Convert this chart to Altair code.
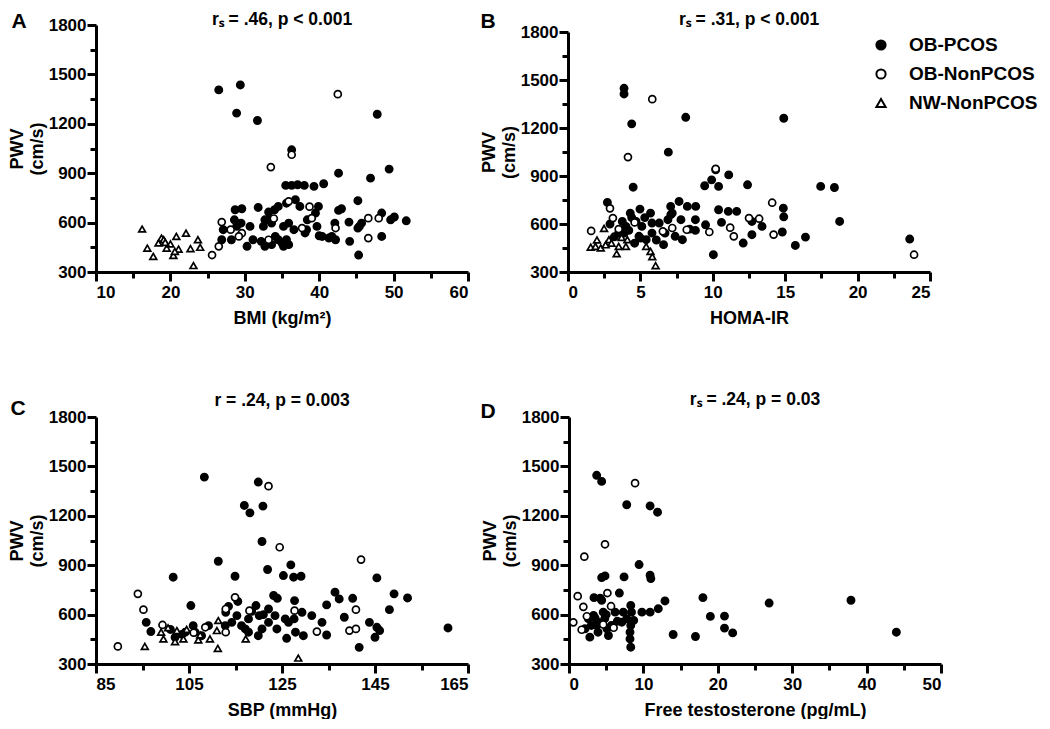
import altair as alt
import pandas as pd

GROUPS = ["OB-PCOS", "OB-NonPCOS", "NW-NonPCOS"]
GROUP_SHAPES = ["circle", "circle", "triangle-up"]
GROUP_FILLS = ["black", "white", "white"]
PANEL_LETTERS = ["A", "B", "C", "D"]
PANEL_TITLES = ["rₛ = .46, p < 0.001", "rₛ = .31, p < 0.001", "r = .24, p = 0.003", "rₛ = .24, p = 0.03"]
X_TITLES = ["BMI (kg/m²)", "HOMA-IR", "SBP (mmHg)", "Free testosterone (pg/mL)"]
Y_TITLE = ["PWV", "(cm/s)"]

# ---------------- Panel A: BMI ----------------
A_PCOS_X = [26.5, 29.4, 28.9, 31.7, 47.8, 36.3, 42.6, 49.4, 46.9, 35.5, 36.3, 37.1, 38.0, 39.3, 40.6,
            29.6, 31.8, 33.2, 37.4, 39.9, 42.6, 43.0, 45.2, 44.0, 45.4, 45.7, 48.4, 49.6, 50.1, 51.7,
            48.4, 44.1, 45.3, 45.2, 27.1, 26.9, 28.2, 28.6, 28.9, 29.5, 30.3, 30.7, 31.1, 32.2, 32.5,
            32.7, 33.2, 33.6, 34.1, 34.5, 35.0, 35.2, 35.6, 35.9, 35.9, 36.6, 36.8, 38.1, 38.3, 39.7,
            40.0, 40.4, 41.3, 41.7, 42.2, 42.1, 39.5, 38.4, 34.0, 34.5, 35.6, 35.2, 32.7, 33.6, 28.7]
A_PCOS_Y = [1406, 1436, 1265, 1220, 1258, 1042, 900, 925, 870, 826, 826, 830, 826, 820, 836,
            684, 692, 664, 698, 698, 674, 684, 733, 603, 577, 597, 658, 617, 634, 611,
            516, 486, 403, 567, 557, 496, 496, 617, 577, 597, 456, 577, 496, 486, 577,
            617, 617, 597, 516, 496, 476, 577, 496, 466, 597, 557, 739, 537, 557, 577,
            520, 516, 506, 516, 496, 597, 658, 617, 678, 698, 718, 456, 456, 466, 678]
A_NON_X = [25.6, 26.5, 26.9, 28.1, 29.6, 42.5, 33.5, 36.3, 35.9, 33.9, 38.7, 39.0, 42.2, 46.6, 48.0,
           46.6, 37.7, 33.2, 29.2]
A_NON_Y = [403, 456, 603, 557, 536, 1380, 937, 1012, 729, 625, 697, 627, 567, 627, 627,
           506, 567, 496, 516]
A_NW_X = [16.2, 16.9, 17.7, 18.4, 18.8, 19.1, 19.5, 20.0, 20.4, 20.8, 21.1, 22.1, 22.7, 23.1, 23.7,
          24.0, 19.3, 20.6]
A_NW_Y = [561, 445, 395, 476, 506, 496, 445, 470, 401, 516, 439, 536, 442, 339, 496,
          450, 480, 425]

# ---------------- Panel B: HOMA-IR ----------------
B_PCOS_X = [3.87, 3.87, 4.40, 8.13, 6.93, 14.9, 4.5, 9.44, 9.92, 10.2, 10.4, 11.1, 12.4, 17.45, 18.4,
            18.76, 23.6, 2.72, 7.67, 8.24, 8.82, 7.09, 10.4, 11.07, 11.65, 14.87, 14.9, 12.7, 13.4, 12.1,
            10.04, 15.7, 16.4, 14.8, 12.7, 9.5, 8.8, 7.9, 4.97, 4.3, 5.7, 7.1, 7.8, 6.7, 8.8,
            6.9, 3.75, 3.87, 5.0, 7.2, 10.6, 8.4, 6.6, 5.8, 5.1, 4.7, 4.0, 3.5, 4.9, 5.4,
            5.8, 6.3, 7.4, 4.2, 4.6, 3.2, 6.1, 2.9, 5.3, 4.4]
B_PCOS_Y = [1448, 1413, 1226, 1267, 1049, 1261, 830, 839, 876, 939, 835, 907, 845, 835, 828,
            616, 506, 735, 741, 710, 710, 710, 689, 679, 679, 699, 645, 533, 585, 481,
            408, 466, 518, 550, 616, 595, 627, 502, 693, 668, 668, 658, 627, 543, 560,
            627, 616, 543, 512, 668, 610, 568, 471, 543, 585, 616, 585, 543, 523, 502,
            606, 606, 523, 560, 480, 520, 500, 600, 640, 640]
B_NON_X = [1.6, 2.9, 3.1, 4.14, 5.82, 10.2, 9.76, 11.2, 11.45, 12.5, 13.2, 14.1, 14.2, 23.9, 6.55,
           7.2, 3.5, 8.2, 4.6]
B_NON_Y = [557, 698, 637, 1018, 1380, 945, 550, 577, 523, 637, 633, 733, 534, 408, 554,
           575, 568, 564, 610]
B_NW_X = [1.57, 1.9, 2.49, 2.26, 2.83, 3.36, 3.5, 4.0, 4.1, 5.4, 5.7, 5.82, 6.05, 3.0, 2.0, 2.6, 3.7]
B_NW_Y = [455, 460, 572, 450, 502, 414, 460, 460, 502, 460, 429, 396, 340, 480, 500, 470, 516]

# ---------------- Panel C: SBP ----------------
C_PCOS_X = [108.3, 119.9, 120.9, 116.9, 118.1, 120.7, 111.3, 121.9, 126.9, 125.3, 127.5, 129.1, 114.9, 101.6, 145.4,
            105.4, 136.4, 137.3, 140.2, 149.1, 152.0, 134.6, 148.1, 138.4, 143.8, 145.4, 145.0, 146.0, 141.6, 160.7,
            134.6, 133.6, 131.4, 129.3, 127.7, 127.6, 126.0, 129.6, 127.9, 124.0, 123.2, 122.1, 123.5, 123.9, 126.4,
            125.7, 119.4, 120.1, 119.9, 120.7, 117.8, 116.3, 115.3, 114.2, 112.8, 112.9, 117.8, 117.1, 105.9, 95.8,
            96.8, 106.3, 109.2, 107.7, 104.2, 102.0, 122.1, 118.5, 121.0, 113.5, 115.5, 101.0, 103.5]
C_PCOS_Y = [1435, 1405, 1259, 1263, 1218, 1044, 924, 874, 902, 837, 827, 833, 833, 827, 823,
            655, 736, 695, 699, 726, 701, 659, 630, 584, 553, 523, 462, 503, 401, 519,
            476, 553, 594, 614, 685, 574, 456, 472, 493, 699, 716, 634, 594, 513, 553,
            574, 655, 594, 472, 513, 574, 533, 594, 553, 533, 614, 493, 513, 533, 553,
            497, 493, 533, 472, 493, 462, 553, 620, 600, 650, 680, 510, 480]
C_NON_X = [89.7, 94.0, 95.2, 99.3, 108.5, 112.9, 114.9, 112.9, 118.0, 122.1, 124.5, 127.7, 132.5, 142.0, 140.9,
           139.5, 140.9, 106.0]
C_NON_Y = [407, 726, 630, 537, 523, 493, 705, 634, 624, 1380, 1009, 624, 497, 934, 630,
           503, 513, 490]
C_NW_X = [95.5, 99.0, 99.5, 102.0, 102.4, 103.8, 107.0, 107.4, 109.5, 111.0, 111.3, 111.2, 117.2, 128.5, 100.5, 104.5]
C_NW_Y = [407, 493, 452, 436, 503, 452, 446, 476, 452, 503, 564, 395, 452, 336, 520, 510]

# ---------------- Panel D: Free testosterone ----------------
D_PCOS_X = [3.72, 4.39, 7.76, 10.9, 11.9, 9.42, 4.39, 4.84, 7.4, 10.9, 11.0, 6.77, 3.36, 4.39, 12.9,
            18.0, 26.9, 37.9, 44.0, 19.0, 20.9, 20.9, 22.0, 14.0, 17.0, 12.0, 10.9, 9.8, 8.4, 7.3,
            6.2, 8.3, 8.3, 8.2, 8.2, 8.3, 8.7, 7.76, 7.1, 5.7, 4.8, 3.9, 3.0, 2.8, 3.9,
            5.3, 3.3, 4.6, 5.1, 2.6, 3.7, 2.15, 4.2, 5.0, 6.5, 3.5]
D_PCOS_Y = [1446, 1409, 1267, 1260, 1222, 904, 825, 835, 829, 839, 819, 731, 703, 687, 683,
            703, 670, 687, 493, 589, 591, 518, 489, 479, 467, 636, 615, 615, 615, 615,
            615, 656, 534, 493, 452, 402, 565, 575, 554, 534, 575, 554, 534, 463, 493,
            473, 595, 615, 514, 575, 534, 514, 700, 600, 560, 580]
D_NON_X = [0.58, 1.17, 1.7, 1.93, 2.06, 4.84, 8.88, 5.16, 5.65, 2.4, 4.6, 6.0]
D_NON_Y = [553, 712, 508, 647, 952, 1027, 1398, 731, 651, 590, 540, 520]
D_NW_X = []
D_NW_Y = []

PANEL_DATA = [
    (A_PCOS_X, A_PCOS_Y, A_NON_X, A_NON_Y, A_NW_X, A_NW_Y),
    (B_PCOS_X, B_PCOS_Y, B_NON_X, B_NON_Y, B_NW_X, B_NW_Y),
    (C_PCOS_X, C_PCOS_Y, C_NON_X, C_NON_Y, C_NW_X, C_NW_Y),
    (D_PCOS_X, D_PCOS_Y, D_NON_X, D_NON_Y, D_NW_X, D_NW_Y),
]
X_DOMAINS = [[10, 60], [0, 25], [85, 165], [0, 50]]
X_TICKS = [list(range(10, 61, 5)), [i * 2.5 for i in range(11)], list(range(85, 166, 10)), list(range(0, 51, 5))]
X_LABEL_TEST = ["datum.value % 10 === 0", "datum.value % 5 === 0",
                "(datum.value - 85) % 20 === 0", "datum.value % 10 === 0"]
Y_TICKS = list(range(300, 1801, 150))

FONT = "Liberation Sans"


def make_df(d):
    rows = []
    for gi, g in enumerate(GROUPS):
        xs, ys = d[2 * gi], d[2 * gi + 1]
        for x, y in zip(xs, ys):
            rows.append({"x": x, "y": y, "group": g})
    return pd.DataFrame(rows)


def panel(i, width, height, yrange_top, letter_pos, title_y, with_legend=False):
    df = make_df(PANEL_DATA[i])
    xaxis = alt.Axis(
        values=X_TICKS[i], format="d",
        labelExpr=f"{X_LABEL_TEST[i]} ? datum.label : ''",
        tickSize={"condition": {"test": X_LABEL_TEST[i], "value": 9}, "value": 6},
        labelPadding=3, titlePadding=9, title=X_TITLES[i], labelOverlap=False, grid=False,
    )
    yaxis = alt.Axis(
        values=Y_TICKS, format="d",
        labelExpr="datum.value % 300 === 0 ? datum.label : ''",
        tickSize={"condition": {"test": "datum.value % 300 === 0", "value": 9}, "value": 6},
        labelPadding=1, titlePadding=2, title=Y_TITLE, labelOverlap=False, grid=False,
    )
    pts = alt.Chart(df).mark_point(stroke="black", strokeWidth=1.7, opacity=1).encode(
        x=alt.X("x:Q", scale=alt.Scale(domain=X_DOMAINS[i], nice=False, zero=False), axis=xaxis),
        y=alt.Y("y:Q", scale=alt.Scale(domain=[300, 1800], nice=False, zero=False,
                                       range=[height, yrange_top]), axis=yaxis),
        shape=alt.Shape("group:N", scale=alt.Scale(domain=GROUPS, range=GROUP_SHAPES), legend=None),
        fill=alt.Fill("group:N", scale=alt.Scale(domain=GROUPS, range=GROUP_FILLS), legend=None),
        size=alt.Size("group:N", scale=alt.Scale(domain=GROUPS, range=[52, 46, 62]), legend=None),
    )
    letter = alt.Chart(pd.DataFrame({"t": [PANEL_LETTERS[i]]})).mark_text(
        font=FONT, fontSize=21, fontWeight="bold", align="center", baseline="middle", color="black"
    ).encode(text="t:N", x=alt.value(letter_pos[0]), y=alt.value(letter_pos[1]))
    title = alt.Chart(pd.DataFrame({"t": [PANEL_TITLES[i]]})).mark_text(
        font=FONT, fontSize=17.5, fontWeight="bold", align="center", baseline="middle", color="black"
    ).encode(text="t:N", x=alt.value(width / 2), y=alt.value(title_y))
    layers = [pts, letter, title]
    if with_legend:
        for k, g in enumerate(GROUPS):
            ly = 20 + 29 * k
            sym = alt.Chart(pd.DataFrame({"group": [g]})).mark_point(
                shape=GROUP_SHAPES[k], fill=GROUP_FILLS[k], stroke="black", strokeWidth=2,
                size=85, opacity=1, filled=True,
            ).encode(x=alt.value(313), y=alt.value(ly))
            lab = alt.Chart(pd.DataFrame({"group": [g]})).mark_text(
                font=FONT, fontSize=19, fontWeight="bold", align="left", baseline="middle", color="black"
            ).encode(text="group:N", x=alt.value(341), y=alt.value(ly))
            layers += [sym, lab]
    return alt.layer(*layers).properties(width=width, height=height)


pA = panel(0, 372, 247, 0, (-77, -3), -5)
pB = panel(1, 362, 247, 7, (-80, -3), -5, with_legend=True)
pC = panel(2, 372, 247, 0, (-78, -8), -16)
pD = panel(3, 372, 247, 0, (-81, -5), -17)

top = alt.hconcat(pA, pB, spacing=10)
bottom = alt.hconcat(pC, pD, spacing=10)

chart = alt.vconcat(top, bottom, spacing=64).properties(
    padding={"left": 0, "top": 3, "right": 0, "bottom": 0}, background="white"
).configure_axis(
    domainWidth=3, domainColor="black", tickWidth=3, tickColor="black",
    labelFont=FONT, labelFontSize=17, labelFontWeight="bold", labelColor="black",
    titleFont=FONT, titleFontSize=18, titleFontWeight="bold", titleColor="black",
    grid=False,
).configure_view(stroke=None)

chart.save("out.html", embed_options={"renderer": "svg", "actions": False})
